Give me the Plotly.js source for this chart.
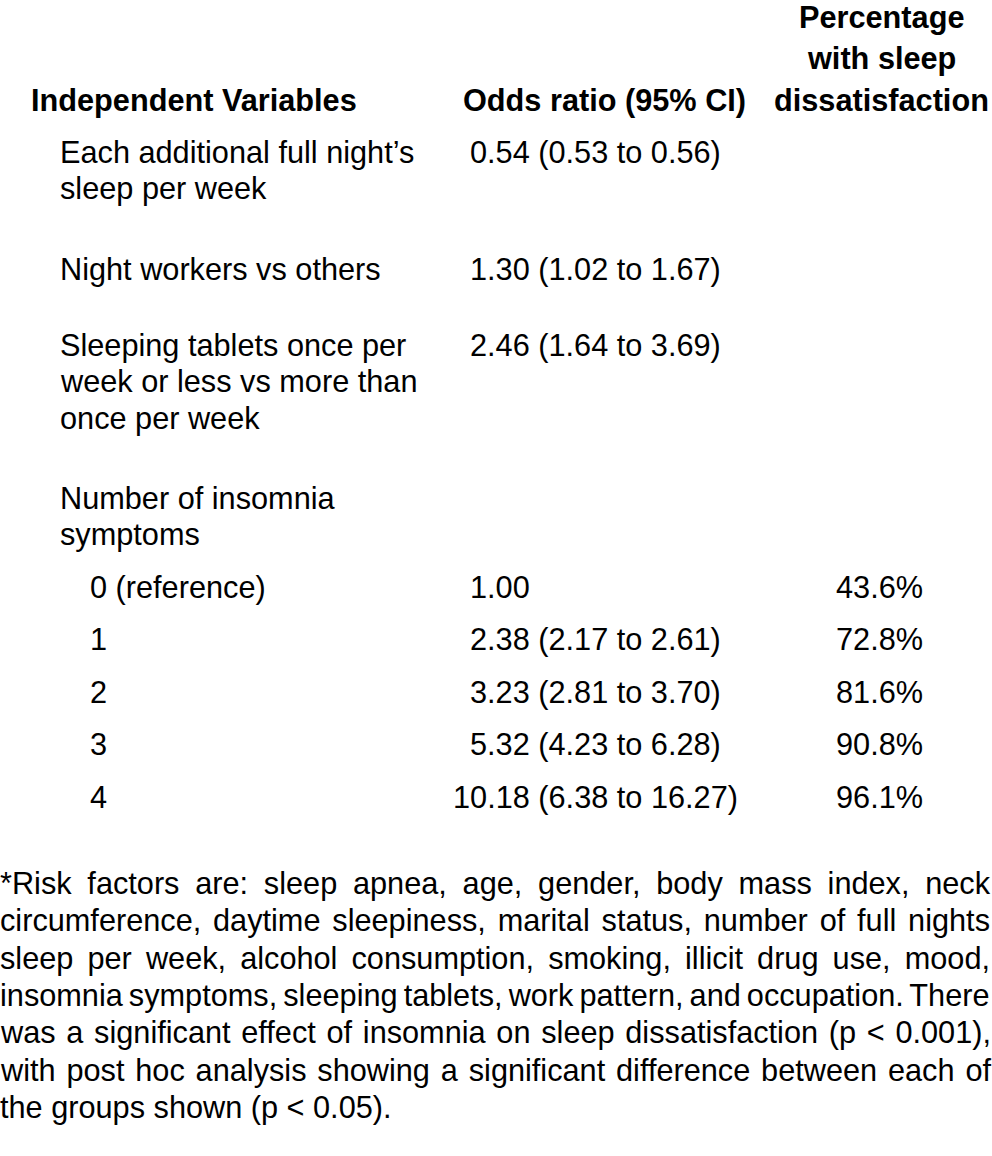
<!DOCTYPE html>
<html><head><meta charset="utf-8">
<script src="https://cdn.plot.ly/plotly-3.0.1.min.js"></script>
<style>html,body{margin:0;padding:0;background:#fff}#chart{width:992px;height:1156px}</style>
</head><body><div id="chart"></div>
<script>
// ---------- data ----------
const headers = ["Independent Variables", "Odds ratio (95% CI)", "Percentage<br>with sleep<br>dissatisfaction"];
const factors = [
  "Each additional full night’s<br>sleep per week",
  "Night workers vs others",
  "Sleeping tablets once per<br>week or less vs more than<br>once per week",
  "Number of insomnia<br>symptoms"
];
const factorOdds = ["0.54 (0.53 to 0.56)", "1.30 (1.02 to 1.67)", "2.46 (1.64 to 3.69)", ""];
const symptomCounts = ["0 (reference)", "1", "2", "3", "4"];
const symptomOdds = ["1.00", "2.38 (2.17 to 2.61)", "3.23 (2.81 to 3.70)", "5.32 (4.23 to 6.28)", "10.18 (6.38 to 16.27)"];
const symptomPct = [43.6, 72.8, 81.6, 90.8, 96.1];
const footnoteLines = [
  "*Risk factors are: sleep apnea, age, gender, body mass index, neck",
  "circumference, daytime sleepiness, marital status, number of full nights",
  "sleep per week, alcohol consumption, smoking, illicit drug use, mood,",
  "insomnia symptoms, sleeping tablets, work pattern, and occupation. There",
  "was a significant effect of insomnia on sleep dissatisfaction (p < 0.001),",
  "with post hoc analysis showing a significant difference between each of",
  "the groups shown (p < 0.05)."
];

// ---------- layout settings ----------
const W = 992, H = 1156;
const FONT = "Liberation Sans, Arial, sans-serif";
const SIZE = 30.7;
const COL = {head0: 31, lvl1: 60, lvl2: 90, dec: 487, pct: 879, foot0: 0, foot1: 990};
const HEAD_BASE = 111, HEAD_PITCH = 41.5;
const LINE = 36.5;
const FACTOR_BASE = [163, 280, 356, 509];
const SYM_BASE = 598, SYM_PITCH = 52.5;
const FOOT_BASE = 894, FOOT_PITCH = 37.4;

const ctx = document.createElement('canvas').getContext('2d');
function measure(t) { ctx.font = SIZE + "px 'Liberation Sans'"; return ctx.measureText(t).width; }
function esc(t) { return t.replace(/&/g, '&amp;').replace(/</g, '&lt;').replace(/>/g, '&gt;'); }
const MID = SIZE * (0.905 - 0.212) / 2;
const anns = [];
function add(text, x, baseline, xanchor, bold) {
  anns.push({
    text: bold ? '<b>' + text + '</b>' : text,
    x: x, y: baseline - MID, xref: 'x', yref: 'y',
    xanchor: xanchor, yanchor: 'middle', showarrow: false,
    borderpad: 0, borderwidth: 0, align: xanchor === 'center' ? 'center' : 'left',
    font: {family: FONT, size: SIZE, color: '#000'}
  });
}

// headers
add(headers[0], COL.head0, HEAD_BASE, 'left', true);
add(headers[1], COL.dec - 24, HEAD_BASE, 'left', true);
const pctHead = headers[2].split('<br>');
pctHead.forEach((l, i) => add(l, COL.pct + 2, HEAD_BASE - (pctHead.length - 1 - i) * HEAD_PITCH, 'center', true));

function addOdds(s, base) {
  if (!s) return;
  const intPart = s.split('.')[0];
  add(esc(s), COL.dec - measure(intPart), base, 'left', false);
}

// factor rows
factors.forEach((f, i) => {
  f.split('<br>').forEach((l, j) => add(esc(l), COL.lvl1, FACTOR_BASE[i] + j * LINE, 'left', false));
  addOdds(factorOdds[i], FACTOR_BASE[i]);
});
// symptom rows
symptomCounts.forEach((c, i) => {
  const b = SYM_BASE + i * SYM_PITCH;
  add(esc(c), COL.lvl2, b, 'left', false);
  addOdds(symptomOdds[i], b);
  add(symptomPct[i].toFixed(1) + '%', COL.pct, b, 'center', false);
});
// footnote (justified)
footnoteLines.forEach((l, i) => {
  const b = FOOT_BASE + i * FOOT_PITCH;
  let txt = esc(l);
  if (i < footnoteLines.length - 1) {
    const gaps = (l.match(/ /g) || []).length;
    const ws = (COL.foot1 - COL.foot0 - measure(l)) / gaps;
    txt = '<span style="word-spacing:' + ws.toFixed(2) + 'px">' + txt + '</span>';
  }
  add(txt, COL.foot0, b, 'left', false);
});

const layout = {
  width: W, height: H,
  margin: {l: 0, r: 0, t: 0, b: 0, pad: 0},
  paper_bgcolor: '#fff', plot_bgcolor: '#fff',
  xaxis: {range: [0, W], visible: false, fixedrange: true},
  yaxis: {range: [H, 0], visible: false, fixedrange: true},
  showlegend: false,
  annotations: anns
};
Plotly.newPlot('chart', [], layout, {displayModeBar: false, staticPlot: true});
</script>
</body></html>
